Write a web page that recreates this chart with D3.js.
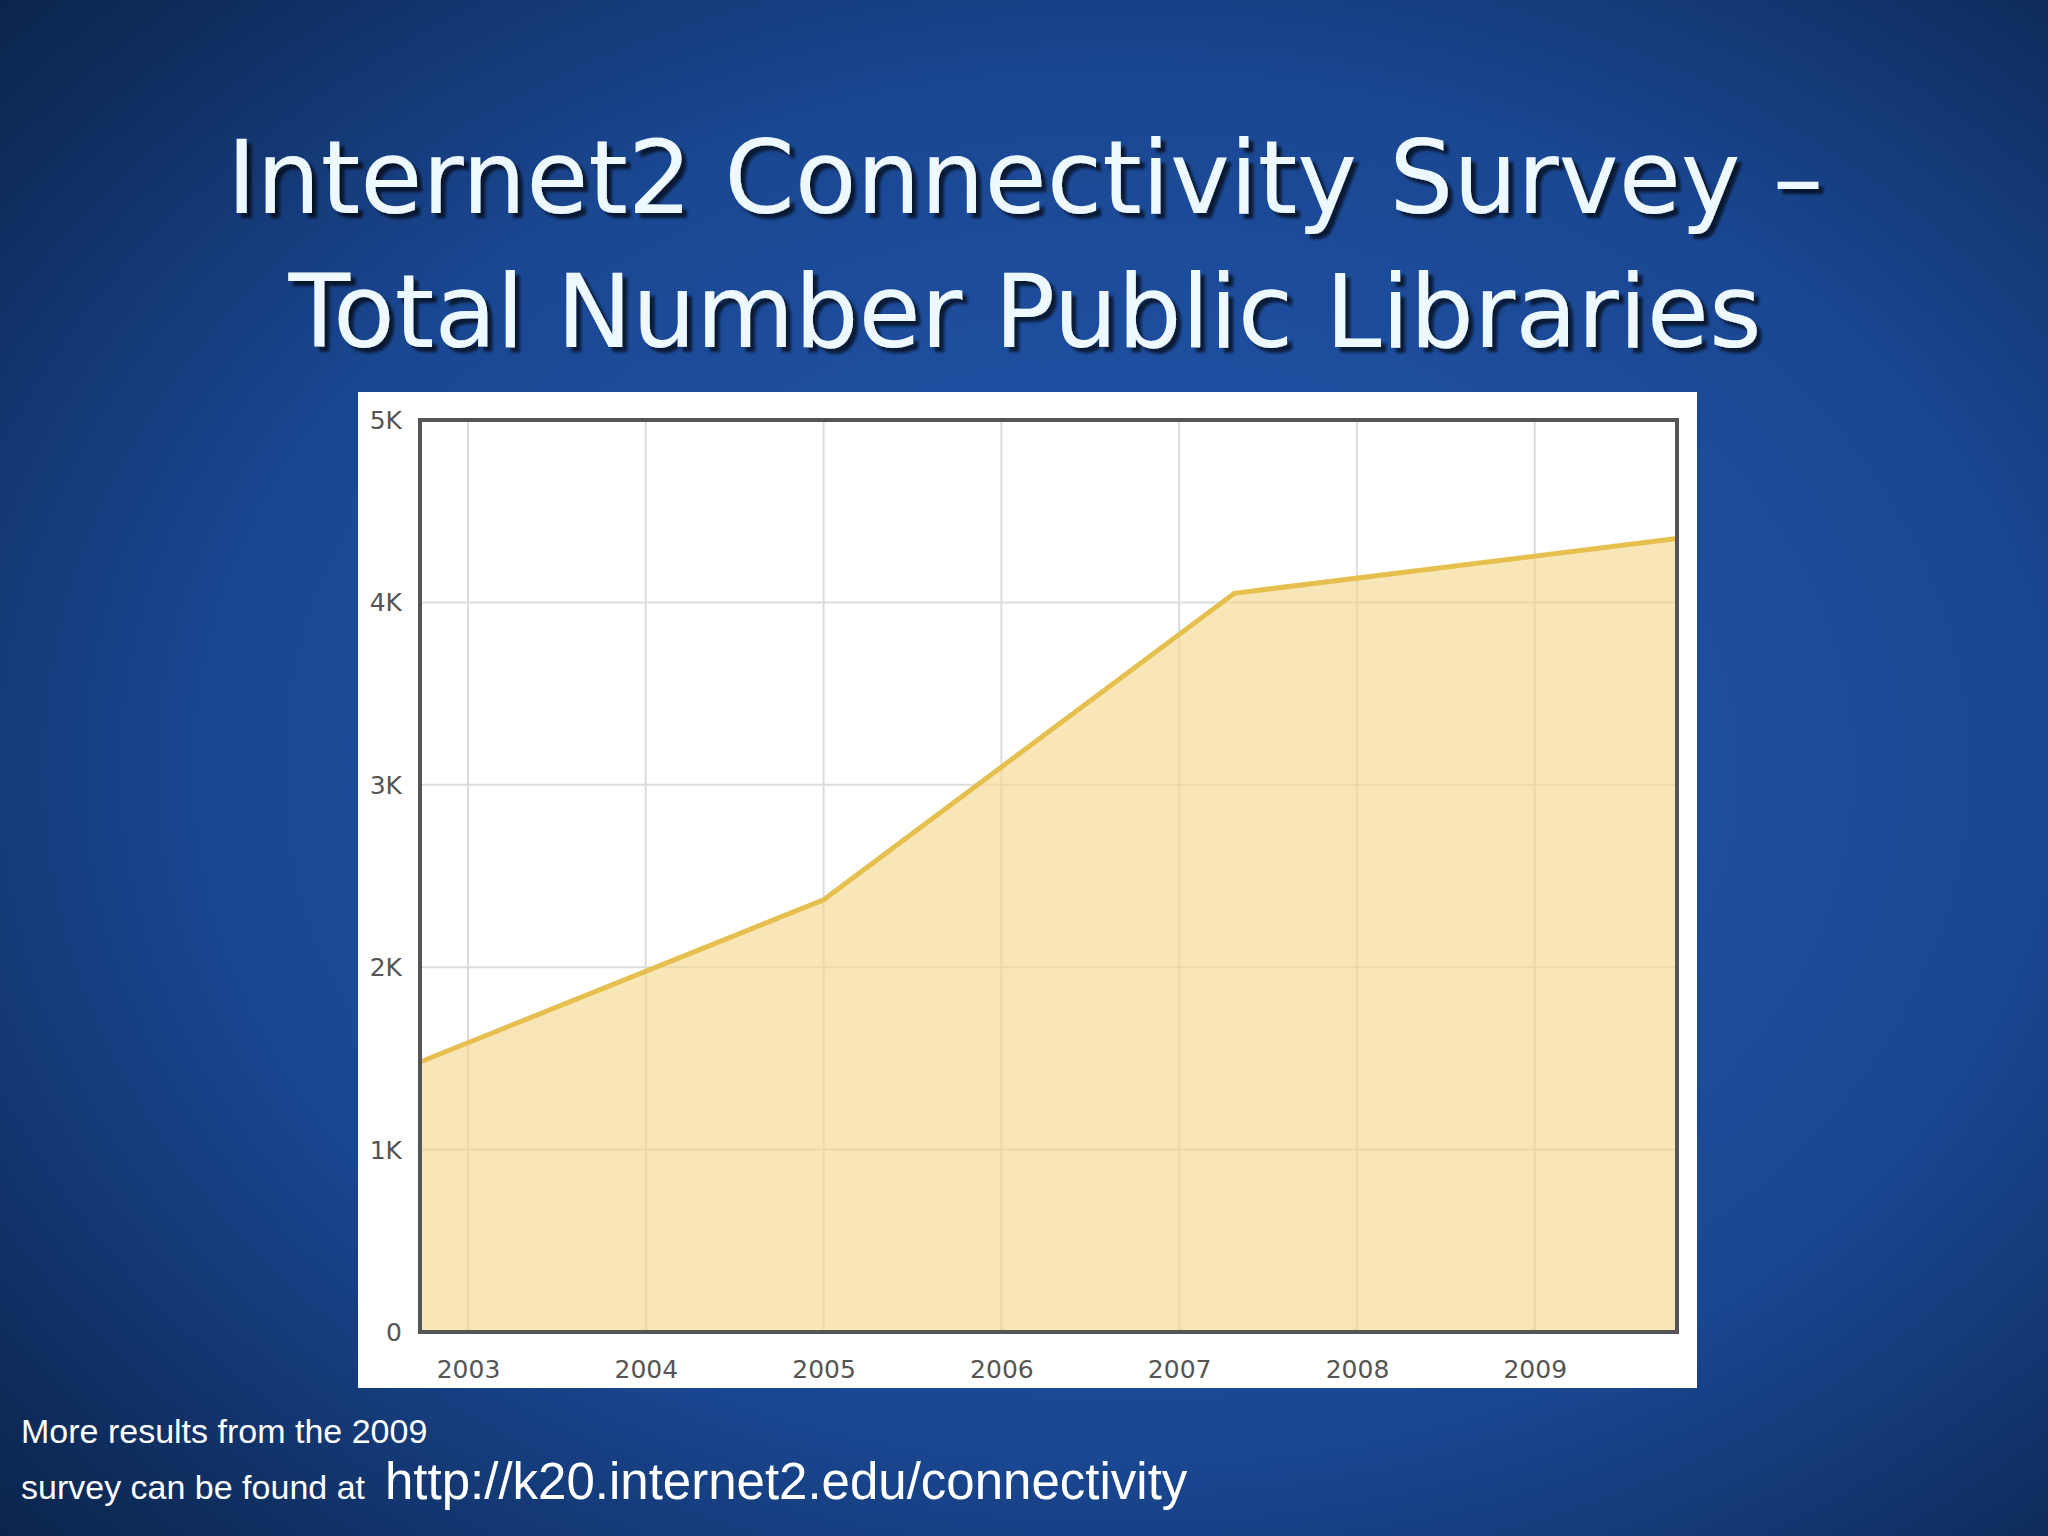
<!DOCTYPE html>
<html lang="en">
<head>
<meta charset="UTF-8">
<title>Internet2 Connectivity Survey</title>
<script src="https://d3js.org/d3.v7.min.js"></script>
<style>
  body { margin: 0; padding: 0; background: #0b2a5a; }
  svg { display: block; }
</style>
</head>
<body>
<script>
// survey points (fractional year, number of libraries)
const years = [2002.73, 2005, 2007.31, 2009.8];
const libraries = [1480, 2370, 4050, 4350];
const yearTicks = [2003, 2004, 2005, 2006, 2007, 2008, 2009];
const valueTicks = [0, 1000, 2000, 3000, 4000, 5000];

const W = 2048, H = 1536;
const svg = d3.select("body").append("svg").attr("width", W).attr("height", H);

// background
const defs = svg.append("defs");
const grad = defs.append("radialGradient").attr("id", "bg").attr("cx", "55%").attr("cy", "50%").attr("r", "75%");
grad.append("stop").attr("offset", "0%").attr("stop-color", "#2358b0");
grad.append("stop").attr("offset", "60%").attr("stop-color", "#1a4792");
grad.append("stop").attr("offset", "100%").attr("stop-color", "#0a2349");
svg.append("rect").attr("width", W).attr("height", H).attr("fill", "url(#bg)");
defs.append("filter").attr("id", "shadow")
  .append("feDropShadow").attr("dx", 5).attr("dy", 5).attr("stdDeviation", 1.5)
  .attr("flood-color", "#000").attr("flood-opacity", 0.65);

// title
const title = svg.append("g").attr("font-family", "DejaVu Sans, Verdana, sans-serif")
  .attr("font-size", 101).attr("text-anchor", "middle").attr("filter", "url(#shadow)");
[["Internet2 Connectivity Survey \u2013", 213], ["Total Number Public Libraries", 347]].forEach(([t, y]) => {
  title.append("text").attr("x", 1025).attr("y", y).attr("fill", "#eef8ff").text(t);
});

// chart panel
svg.append("rect").attr("x", 358).attr("y", 392).attr("width", 1339).attr("height", 996).attr("fill", "#fff");

const x = d3.scaleLinear().domain([2002.73, 2009.8]).range([420, 1677]);
const y = d3.scaleLinear().domain([0, 5000]).range([1332, 420]);

const g = svg.append("g");
g.selectAll(".vg").data(yearTicks).enter().append("line")
  .attr("x1", d => x(d)).attr("x2", d => x(d)).attr("y1", 420).attr("y2", 1332)
  .attr("stroke", "#dcdcdc").attr("stroke-width", 2);
g.selectAll(".hg").data(valueTicks).enter().append("line")
  .attr("x1", 420).attr("x2", 1677).attr("y1", d => y(d)).attr("y2", d => y(d))
  .attr("stroke", "#dcdcdc").attr("stroke-width", 2);

const pts = years.map((yr, i) => [yr, libraries[i]]);
g.append("path").datum(pts)
  .attr("d", d3.area().x(d => x(d[0])).y0(y(0)).y1(d => y(d[1])))
  .attr("fill", "#f6d78c").attr("opacity", 0.62);
g.append("path").datum(pts)
  .attr("d", d3.line().x(d => x(d[0])).y(d => y(d[1])))
  .attr("fill", "none").attr("stroke", "#e6c04e").attr("stroke-width", 5);

g.append("rect").attr("x", 420).attr("y", 420).attr("width", 1257).attr("height", 912)
  .attr("fill", "none").attr("stroke", "#555").attr("stroke-width", 4);

// axes
const fmt = d => d === 0 ? "0" : (d / 1000) + "K";
const yAxis = svg.append("g").attr("transform", "translate(402,6)")
  .call(d3.axisLeft(y).tickValues(valueTicks).tickFormat(fmt).tickSize(0).tickPadding(0));
yAxis.select(".domain").remove();
yAxis.selectAll("text").attr("dy", "0.1em");
const xAxis = svg.append("g").attr("transform", "translate(0,1360)")
  .call(d3.axisBottom(x).tickValues(yearTicks).tickFormat(d3.format("d")).tickSize(0).tickPadding(0));
xAxis.select(".domain").remove();
svg.selectAll(".tick text").attr("font-family", "DejaVu Sans, Verdana, sans-serif")
  .attr("font-size", 25).attr("fill", "#555");

// footer
const foot = svg.append("g").attr("font-family", "Liberation Sans, Arial, sans-serif").attr("fill", "#fff");
foot.append("text").attr("x", 21).attr("y", 1443).attr("font-size", 34).text("More results from the 2009");
foot.append("text").attr("x", 21).attr("y", 1499).attr("font-size", 34).text("survey can be found at");
foot.append("text").attr("x", 385).attr("y", 1499).attr("font-size", 51).text("http://k20.internet2.edu/connectivity");
</script>
</body>
</html>
